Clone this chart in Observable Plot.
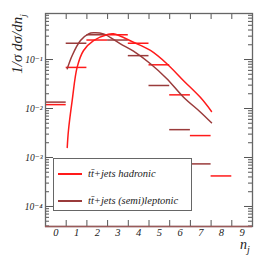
<!DOCTYPE html>
<html><head><meta charset="utf-8">
<script src="https://cdn.jsdelivr.net/npm/d3@7"></script>
<script src="https://cdn.jsdelivr.net/npm/@observablehq/plot@0.6"></script>
<style>
body{margin:0;background:#fff;}
#wrap{position:relative;width:266px;height:266px;font-family:"Liberation Serif","DejaVu Serif",serif;font-style:italic;}
.leg{position:absolute;left:53px;top:158px;width:139px;height:53px;border:1px solid #666;box-sizing:border-box;background:#fff;}
.li{position:absolute;left:4px;height:2px;width:24px;}
.lt{position:absolute;left:34px;font-size:10.5px;white-space:nowrap;line-height:12px;color:#222;}
.ylab{position:absolute;left:18px;top:44px;transform:translate(-50%,-50%) rotate(-90deg);font-size:15px;white-space:nowrap;color:#222;}
.xlab{position:absolute;left:240px;top:239px;font-size:14px;color:#222;line-height:12px;}
</style></head>
<body><div id="wrap"></div>
<script>
// histogram bins (n_j) and normalised values
const bins = [0,1,2,3,4,5,6,7,8];
const hadronicHist = [0.0120, 0.069, 0.25, 0.32, 0.215, 0.078, 0.019, 0.0028, 0.00042];
const leptonicHist = [0.0135, 0.215, 0.32, 0.25, 0.12, 0.0295, 0.0037, 0.00074, null];
// smooth curves
const hadronicCurveX = [0.55, 0.61, 0.79, 1.03, 1.34, 1.82, 2.5, 2.78, 3.75, 4.57, 5.35, 6.17, 6.99, 7.52];
const hadronicCurveY = [0.0016, 0.0036, 0.0146, 0.070, 0.153, 0.244, 0.324, 0.334, 0.225, 0.153, 0.083, 0.037, 0.0167, 0.0087];
const leptonicCurveX = [0.55, 0.79, 1.19, 1.58, 1.82, 2.30, 3.12, 3.75, 4.57, 5.35, 6.17, 6.99, 7.52];
const leptonicCurveY = [0.0646, 0.121, 0.244, 0.334, 0.351, 0.334, 0.209, 0.148, 0.082, 0.041, 0.017, 0.0084, 0.0051];
// axis ticks
const xLabels = [0,1,2,3,4,5,6,7,8,9];
const xEdges = [0.5,1.5,2.5,3.5,4.5,5.5,6.5,7.5,8.5];
const yMajor = [1e-1, 1e-2, 1e-3, 1e-4];
const supDigits = {"-":"\u207B","1":"\u00B9","2":"\u00B2","3":"\u00B3","4":"\u2074","5":"\u2075"};
const yMinor = [];
for (const e of [-5,-4,-3,-2,-1]) for (let m = 2; m <= 9; m++) yMinor.push(m * Math.pow(10, e));

const RED = "#ff1a1a", BROWN = "#9a3b3b";
const W = 266, H = 266, ML = 45, MR = 14, MT = 13, MB = 40;
const IW = W - ML - MR, IH = H - MT - MB;
const yDom = [3.9e-5, 0.87];
const yMinorIn = yMinor.filter(v => v > yDom[0] && v < yDom[1]);
const fmtPow = d => "10" + String(Math.round(Math.log10(d))).split("").map(c => supDigits[c]).join("");

const hadRows = bins.map((b,i)=>({b, v: hadronicHist[i]})).filter(d=>d.v!=null);
const lepRows = bins.map((b,i)=>({b, v: leptonicHist[i]})).filter(d=>d.v!=null);
const hadCurve = hadronicCurveX.map((x,i)=>({x, y: hadronicCurveY[i]}));
const lepCurve = leptonicCurveX.map((x,i)=>({x, y: leptonicCurveY[i]}));

const chart = Plot.plot({
  width: W, height: H, marginLeft: ML, marginRight: MR, marginTop: MT, marginBottom: MB,
  style: {fontFamily: "'Liberation Serif', 'DejaVu Serif', serif", fontStyle: "italic", fontSize: "10px", color: "#222", background: "#fff"},
  x: {domain: [-0.5, 9.5], axis: null},
  y: {type: "log", domain: yDom, axis: null},
  marks: [
    Plot.ruleY(yMajor, {insetRight: IW - 8, stroke: "#555"}),
    Plot.ruleY(yMinorIn, {insetRight: IW - 4, stroke: "#555"}),
    Plot.ruleY(yMajor, {insetLeft: IW - 8, stroke: "#555"}),
    Plot.ruleY(yMinorIn, {insetLeft: IW - 4, stroke: "#555"}),
    Plot.ruleX(xEdges, {insetTop: IH - 6, stroke: "#555"}),
    Plot.ruleX(xEdges, {insetBottom: IH - 6, stroke: "#555"}),
    Plot.ruleY(lepRows, {y: "v", x1: d => d.b - 0.5, x2: d => d.b + 0.5, stroke: BROWN, strokeWidth: 1.5}),
    Plot.ruleY(hadRows, {y: "v", x1: d => d.b - 0.5, x2: d => d.b + 0.5, stroke: RED, strokeWidth: 1.5}),
    Plot.line(lepCurve, {x: "x", y: "y", stroke: BROWN, strokeWidth: 1.5, curve: "catmull-rom"}),
    Plot.line(hadCurve, {x: "x", y: "y", stroke: RED, strokeWidth: 1.5, curve: "catmull-rom"}),
    Plot.frame({stroke: "#666", strokeWidth: 1.3}),
    Plot.ruleY([yDom[0]], {stroke: "#9a5a5a", strokeWidth: 1.5}),
    Plot.text(yMajor, {y: d => d, frameAnchor: "left", textAnchor: "end", dx: -3, text: fmtPow, fontSize: 9.5}),
    Plot.text(xLabels, {x: d => d, frameAnchor: "bottom", lineAnchor: "top", dy: 2, text: d => String(d), fontSize: 10.5})
  ]
});
const wrap = document.getElementById("wrap");
wrap.appendChild(chart);
wrap.insertAdjacentHTML("beforeend", `
<div class="leg">
  <div class="li" style="top:14px;background:${RED}"></div>
  <div class="lt" style="top:9px">t\u0074\u0304+jets hadronic</div>
  <div class="li" style="top:41px;background:${BROWN}"></div>
  <div class="lt" style="top:36px">t\u0074\u0304+jets (semi)leptonic</div>
</div>
<div class="ylab">1/\u03C3 d\u03C3/dn<sub style="font-size:9px">j</sub></div>
<div class="xlab">n<sub style="font-size:10px">j</sub></div>`);
</script>
</body></html>
